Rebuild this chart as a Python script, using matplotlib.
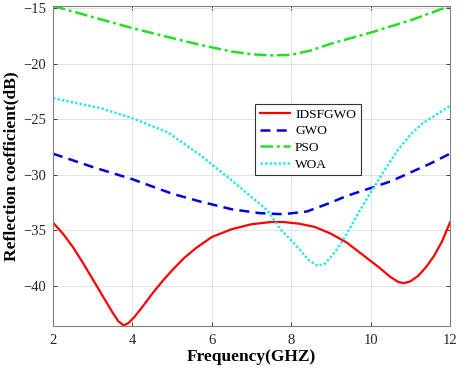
import matplotlib
matplotlib.use('Agg')
from matplotlib import pyplot as plt

# ------ data ------
freq_ids = [2.0, 2.25, 2.5, 2.75, 3.0, 3.25, 3.5, 3.65, 3.78, 3.9, 4.05, 4.25, 4.5, 4.75,
            5.0, 5.3, 5.6, 6.0, 6.5, 7.0, 7.5, 7.8, 8.2, 8.6, 9.0, 9.4, 9.8, 10.2, 10.5,
            10.7, 10.84, 11.0, 11.2, 11.4, 11.6, 11.8, 12.0]
ids = [-34.3, -35.3, -36.5, -37.9, -39.4, -40.9, -42.4, -43.2, -43.55, -43.35, -42.8,
       -41.9, -40.7, -39.6, -38.6, -37.5, -36.6, -35.6, -34.9, -34.45, -34.25, -34.25,
       -34.4, -34.7, -35.3, -36.1, -37.2, -38.3, -39.2, -39.65, -39.75, -39.6, -39.1,
       -38.3, -37.3, -36.0, -34.3]

freq_gwo = [2, 3, 4, 5, 5.7, 6.5, 7.2, 7.8, 8.4, 9, 9.4, 10, 10.5, 11, 11.5, 12]
gwo = [-28.1, -29.3, -30.4, -31.7, -32.4, -33.1, -33.45, -33.55, -33.3, -32.5, -31.9,
       -31.2, -30.6, -29.8, -29.0, -28.1]

freq_pso = [2, 2.8, 4, 4.9, 5.7, 6.5, 7.0, 7.5, 8.0, 8.5, 9.0, 10.0, 11.0, 12]
pso = [-14.8, -15.6, -16.8, -17.6, -18.3, -18.9, -19.15, -19.25, -19.2, -18.8, -18.2,
       -17.2, -16.1, -14.8]

freq_woa = [2, 3.2, 4.0, 4.9, 5.7, 6.5, 7.0, 7.4, 7.73, 8.0, 8.23, 8.45, 8.67, 8.85, 9.05,
            9.25, 9.45, 9.7, 10.0, 10.35, 10.7, 11.0, 11.3, 11.65, 12]
woa = [-23.1, -24.0, -24.9, -26.2, -28.2, -30.5, -32.0, -33.2, -34.9, -35.9, -36.8, -37.7,
       -38.2, -38.0, -37.2, -36.2, -35.0, -33.4, -31.6, -29.6, -27.7, -26.4, -25.4,
       -24.6, -23.8]

xticks = [2, 4, 6, 8, 10, 12]
yticks = [-40, -35, -30, -25, -20, -15]

plt.rcParams['font.family'] = ['Liberation Serif', 'DejaVu Serif']

fig = plt.figure(figsize=(4.61, 3.72), dpi=100)
ax = fig.add_axes([0.115, 0.124, 0.861, 0.86])

ax.plot(freq_ids, ids, color='#ff0000', lw=1.6, label='IDSFGWO')
ax.plot(freq_gwo, gwo, color='#0000e6', lw=1.8, ls=(0, (4, 2.5)), label='GWO')
ax.plot(freq_pso, pso, color='#22e022', lw=1.8, ls=(0, (5, 1.5, 1.2, 1.5)), label='PSO')
ax.plot(freq_woa, woa, color='#33e6e6', lw=1.8, ls=(0, (1, 0.8)), label='WOA')

ax.set_xlim(2, 12)
ax.set_ylim(-43.6, -14.8)
ax.set_xticks(xticks)
ax.set_yticks(yticks)
ax.grid(True, color='#e3e3e3', lw=0.7)
ax.tick_params(direction='in', top=True, right=True, labelsize=10.5, colors='#262626',
               length=3, width=0.6)
ax.tick_params(axis='x', pad=6)
ax.tick_params(axis='y', pad=5)
for sp in ax.spines.values():
    sp.set_color('#808080')
    sp.set_linewidth(0.8)

ax.set_xlabel('Frequency(GHZ)', fontsize=12.5, fontweight='bold', labelpad=1)
ax.set_ylabel('Reflection coefficient(dB)', fontsize=12.5, fontweight='bold', labelpad=3)

leg = ax.legend(loc='upper left', bbox_to_anchor=(0.509, 0.694),
                fontsize=9.6, frameon=True, fancybox=False, framealpha=1,
                handlelength=2.3, handletextpad=0.35, borderpad=0.35, labelspacing=0.32,
                borderaxespad=0)
leg.get_frame().set_edgecolor('#333333')
leg.get_frame().set_linewidth(0.8)

plt.savefig('out.png', dpi=100)
